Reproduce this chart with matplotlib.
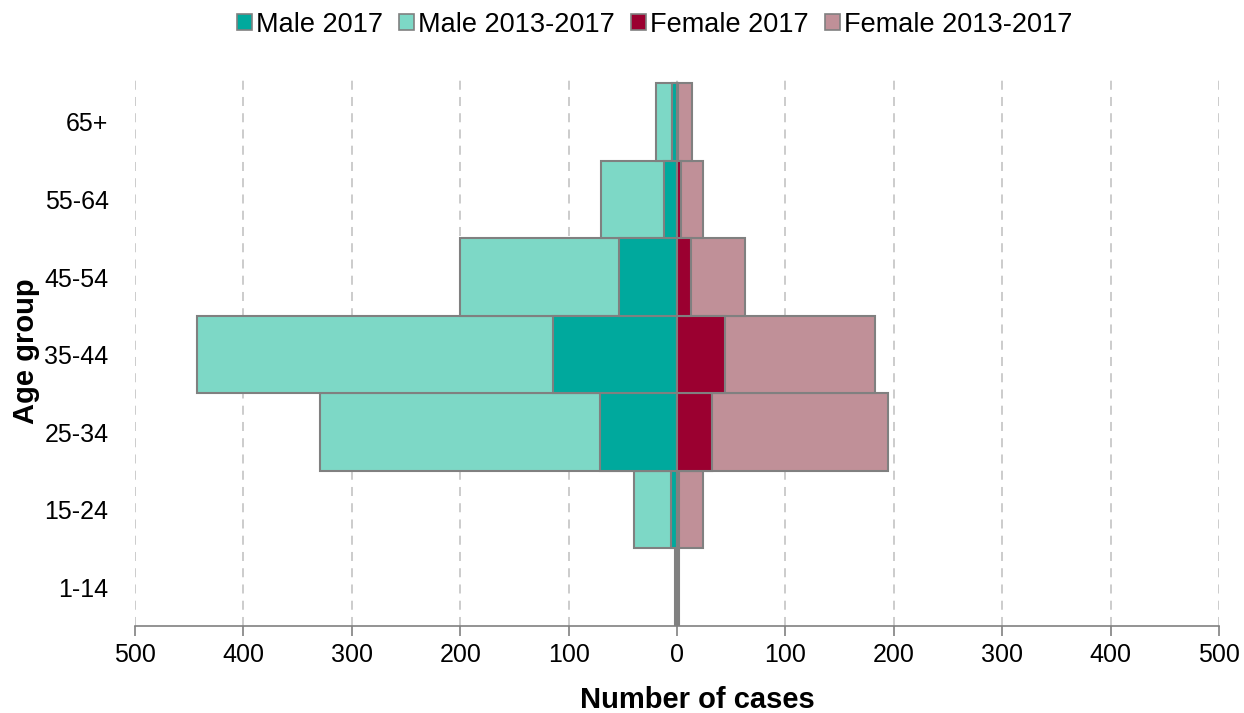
import matplotlib
matplotlib.use("Agg")
import matplotlib.pyplot as plt
from matplotlib.patches import Patch
import numpy as np

plt.rcParams['font.family'] = ['Liberation Sans', 'DejaVu Sans']

age_groups = ["1-14", "15-24", "25-34", "35-44", "45-54", "55-64", "65+"]
male_2017 = [0, 6, 71, 114, 54, 12, 5]
male_2013_2017 = [2, 40, 329, 443, 200, 70, 19]
female_2017 = [1, 2, 32, 44, 13, 4, 1]
female_2013_2017 = [2, 24, 195, 183, 63, 24, 14]
xticks = [-500, -400, -300, -200, -100, 0, 100, 200, 300, 400, 500]

c_m17 = "#00A99D"
c_m13 = "#7DD8C6"
c_f17 = "#9B0030"
c_f13 = "#C09098"
edge = "#808080"

fig = plt.figure(figsize=(12.44, 7.13), dpi=100)
ax = fig.add_axes([0.1085, 0.122, 0.8715, 0.77])

y = np.arange(len(age_groups))
kw = dict(height=1.0, edgecolor=edge, linewidth=1.5, zorder=3)
ax.barh(y, -np.array(male_2013_2017), color=c_m13, **kw)
ax.barh(y, -np.array(male_2017), color=c_m17, **kw)
ax.barh(y, female_2013_2017, color=c_f13, **kw)
ax.barh(y, female_2017, color=c_f17, **kw)

ax.set_xlim(-500, 500)
ax.set_ylim(-0.5, 6.58)
ax.set_xticks(xticks)
ax.set_xticklabels([str(abs(v)) for v in xticks], fontsize=18)
ax.set_yticks(y)
ax.set_yticklabels(age_groups, fontsize=18)
ax.tick_params(axis='y', length=0, pad=19)
ax.tick_params(axis='x', length=7, color=edge, width=1.2, pad=5)
for s in ['top', 'right', 'left']:
    ax.spines[s].set_visible(False)
ax.spines['bottom'].set_color(edge)
ax.spines['bottom'].set_linewidth(1.2)
ax.xaxis.grid(True, color="#C8C8C8", linestyle=(0, (5, 4)), linewidth=1.3, zorder=0)
ax.set_axisbelow(True)

ax.set_xlabel("Number of cases", fontsize=21, fontweight='bold')
ax.xaxis.set_label_coords(0.5185, -0.0)
ax.xaxis.label.set_va('top')
ax.set_ylabel("Age group", fontsize=21, fontweight='bold')
ax.yaxis.set_label_coords(-0.088, 0.5)

handles = [Patch(facecolor=c, edgecolor=edge, linewidth=1.2) for c in [c_m17, c_m13, c_f17, c_f13]]
labels = ["Male 2017", "Male 2013-2017", "Female 2017", "Female 2013-2017"]
fig.legend(handles, labels, loc='upper center', bbox_to_anchor=(0.526, 1.018), ncol=4,
           frameon=False, fontsize=19.5, handlelength=0.55, handleheight=0.55,
           handletextpad=0.15, columnspacing=0.6)

# place x label in pixel position (top of text at ~686 px)
ax.xaxis.set_label_coords(0.5185, -(686 - 626) / (0.77 * 713))

fig.savefig("out.png", dpi=100)
